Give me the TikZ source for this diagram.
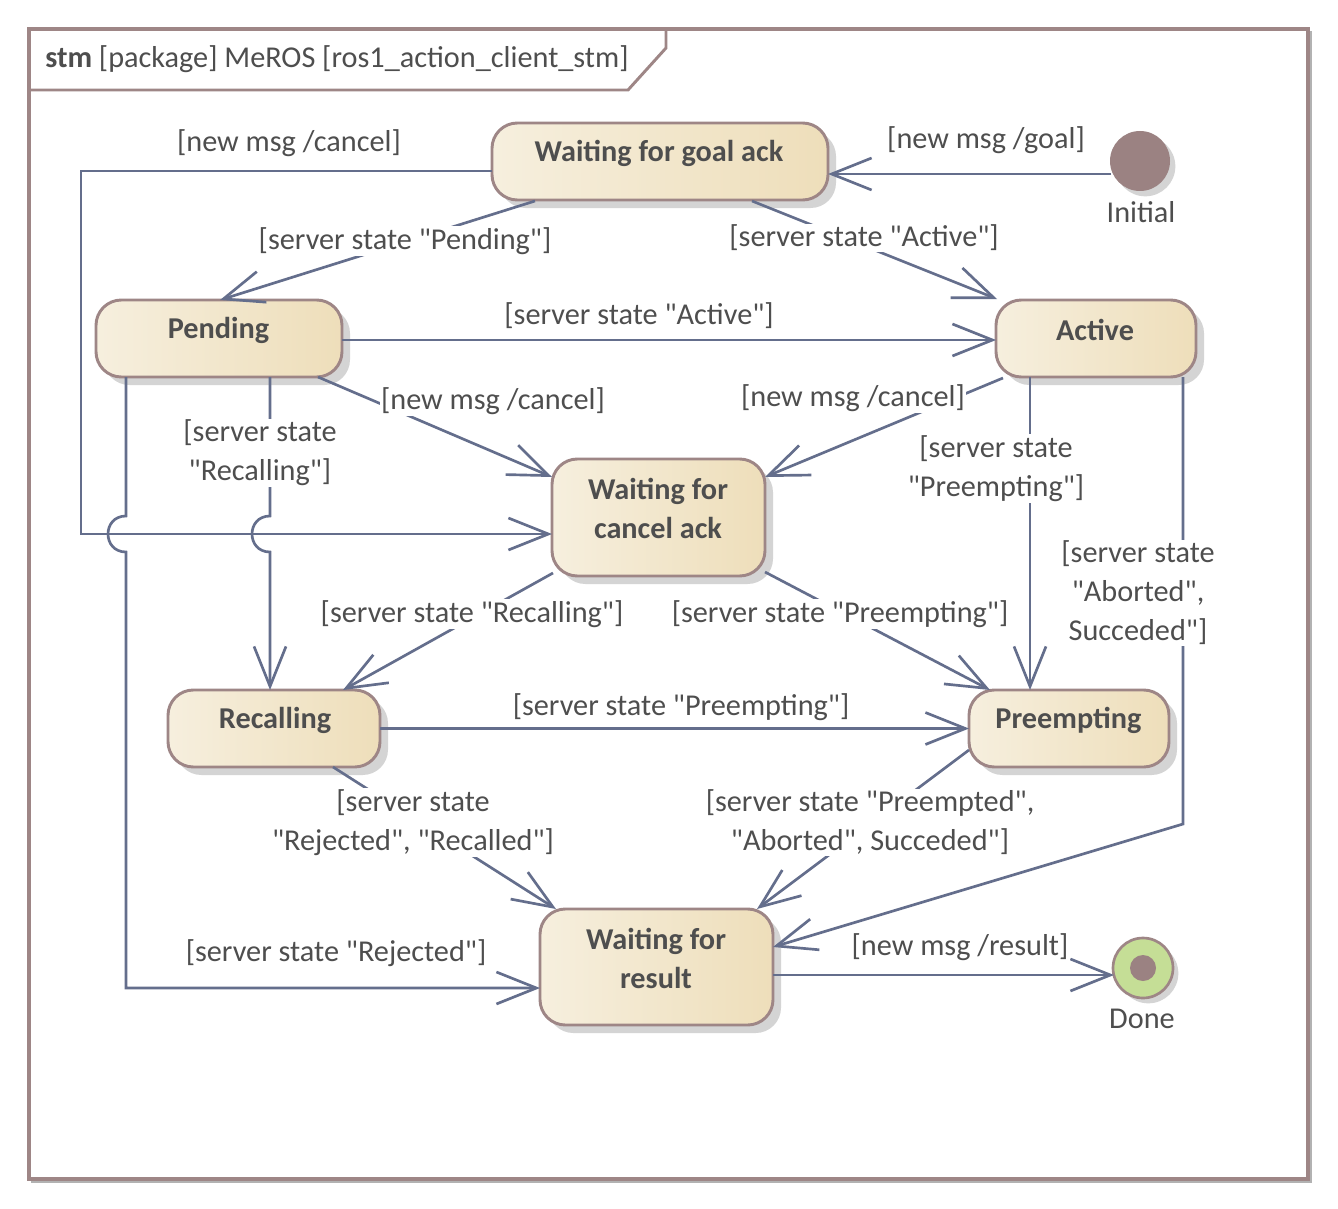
\documentclass[tikz,border=0pt]{standalone}
\usepackage{fontspec}
\setmainfont{Carlito}[Ligatures=TeXOff]
\usetikzlibrary{arrows.meta,shadows,calc}
\definecolor{edgeC}{RGB}{100,110,140}
\definecolor{frameC}{RGB}{158,134,134}
\definecolor{shadowC}{RGB}{212,212,212}
\definecolor{stL}{RGB}{246,239,222}
\definecolor{stR}{RGB}{238,222,186}
\definecolor{initC}{RGB}{155,130,130}
\definecolor{doneC}{RGB}{197,222,150}
\definecolor{txtC}{RGB}{78,78,78}
\def\PX{0.75pt}
\tikzset{
  stbox/.style={draw=frameC, line width=2.2pt, rounded corners=19pt, inner sep=0pt, outer sep=0pt,
    left color=stL, right color=stR,
    drop shadow={shadow xshift=6pt, shadow yshift=-6pt, fill=shadowC, opacity=1}},
  sttext/.style={inner sep=0pt, align=center, text=txtC, font=\fontsize{22.7}{29.25}\selectfont\bfseries},
  lbl/.style={fill=white, inner sep=1pt, align=center, text=txtC, font=\fontsize{22.7}{29.25}\selectfont},
  plain/.style={inner sep=0pt, text=txtC, font=\fontsize{22.7}{29.25}\selectfont},
  tr/.style={draw=edgeC, line width=2pt, -{Straight Barb[length=30pt,width=24pt]}},
}
\begin{document}
\begin{tikzpicture}[x=0.75pt,y=-0.75pt]
\useasboundingbox (0,0) rectangle (1338,1209);
% frame
\fill[black!30] (31,31) rectangle (1312,1183);
\draw[frameC, line width=2.5pt, fill=white] (29,29) rectangle (1308,1179);
\draw[frameC, line width=2.2pt] (30,90) -- (628,90) -- (666,48) -- (666,30);
\node[plain, anchor=west] (title) at (45,59) {\textbf{stm} [package] MeROS [ros1\_action\_client\_stm]};

% states
\node[stbox, minimum width=336*\PX, minimum height=77*\PX] (wg) at (660,161.5) {};
\node[stbox, minimum width=246*\PX, minimum height=77*\PX] (pe) at (219,338.5) {};
\node[stbox, minimum width=200*\PX, minimum height=77*\PX] (ac) at (1096,338.5) {};
\node[stbox, minimum width=213*\PX, minimum height=117*\PX] (wc) at (658.5,517.5) {};
\node[stbox, minimum width=212*\PX, minimum height=77*\PX] (re) at (274,728.5) {};
\node[stbox, minimum width=200*\PX, minimum height=77*\PX] (pr) at (1069,728.5) {};
\node[stbox, minimum width=233*\PX, minimum height=116*\PX] (wr) at (656.5,967) {};

% pseudo states
\node[circle, fill=initC, minimum size=60*\PX, inner sep=0pt, outer sep=0pt,
  drop shadow={shadow xshift=4pt, shadow yshift=-4pt, fill=shadowC, opacity=1}] (init) at (1140,161) {};
\node[plain] (initl) at (1141,212) {Initial};
\node[circle, draw=frameC, line width=2pt, fill=doneC, minimum size=60*\PX, inner sep=0pt, outer sep=0pt,
  drop shadow={shadow xshift=4pt, shadow yshift=-4pt, fill=shadowC, opacity=1}] (done) at (1143,968) {};
\node[circle, fill=initC, minimum size=26*\PX, inner sep=0pt] (donedot) at (done.center) {};
\node[plain] (donel) at (1142,1019) {Done};

% transitions
\draw[tr] ($(init.center)+(-29,13)$) -- ($(wg.east)+(0,12.5)$);
\draw[tr] ($(wg.west)+(0,9.5)$) -- ++(-411,0) |- ($(wc.west)+(0,16.5)$);
\draw[tr] ($(wg.south west)+(43,1)$) -- ($(pe.north)+(1,0)$);
\draw[tr] ($(wg.south west)+(260,1)$) -- ($(ac.north west)+(1,-1)$);
\draw[tr] ($(pe.east)+(0,1.5)$) -- ($(ac.west)+(0,1.5)$);
\draw[tr] ($(pe.south east)+(-24,0)$) -- ($(wc.north west)+(0,18)$);
\draw[tr] ($(ac.south west)+(7,1)$) -- ($(wc.north east)+(0,18)$);
\draw[tr] ($(pe.south west)+(174,0)$) -- (270,516) .. controls (246,516) and (246,552) .. (270,552) -- ($(re.north west)+(102,0)$);
\draw[tr] ($(pe.south west)+(30,0)$) -- (126,516) .. controls (102,516) and (102,552) .. (126,552) |- ($(wr.west)+(0,21)$);
\draw[tr] ($(ac.south west)+(34,0)$) -- ($(pr.north west)+(61,0)$);
\draw[tr] ($(ac.south east)+(-13,0)$) -- ++(0,447) -- ($(wr.east)+(0,-20)$);
\draw[tr] ($(wc.south west)+(1,-3)$) -- ($(re.north east)+(-37,0)$);
\draw[tr] ($(wc.south east)+(0,-4)$) -- ($(pr.north west)+(21,0)$);
\draw[tr] (re.east) -- (re.east -| pr.west);
\draw[tr] ($(re.south west)+(165,0)$) -- ($(wr.north west)+(16,0)$);
\draw[tr] ($(pr.west)+(0,21.5)$) -- ($(wr.north east)+(-16,0)$);
\draw[tr] ($(wr.east)+(0,8)$) -- ($(done.center)+(-29,7)$);

% labels
\node[lbl] (l1) at (986,140) {[new msg /goal]};
\node[lbl] (l2) at (289,143) {[new msg /cancel]};
\node[lbl] (l3) at (405,241) {[server state "Pending"]};
\node[lbl] (l4) at (864,238) {[server state "Active"]};
\node[lbl] (l5) at (639,316) {[server state "Active"]};
\node[lbl] (l6) at (493,401) {[new msg /cancel]};
\node[lbl] (l7) at (853,398) {[new msg /cancel]};
\node[lbl] (l8) at (260,453) {[server state\\"Recalling"]};
\node[lbl] (l10) at (996,468.5) {[server state\\"Preempting"]};
\node[lbl] (l11) at (1138,593) {[server state\\"Aborted",\\Succeded"]};
\node[lbl] (l12) at (472,614) {[server state "Recalling"]};
\node[lbl] (l13) at (840,614) {[server state "Preempting"]};
\node[lbl] (l14) at (681,707) {[server state "Preempting"]};
\node[lbl] (l15) at (413,822.5) {[server state\\"Rejected", "Recalled"]};
\node[lbl] (l16) at (870,822.5) {[server state "Preempted",\\"Aborted", Succeded"]};
\node[lbl] (l9) at (336,953) {[server state "Rejected"]};
\node[lbl] (l17) at (960,947) {[new msg /result]};

% state names
\node[sttext] (wgt) at (659,153) {Waiting for goal ack};
\node[sttext] (pet) at (218.5,330) {Pending};
\node[sttext] (act) at (1095,330) {Active};
\node[sttext] (wct) at (658,508.5) {Waiting for\\cancel ack};
\node[sttext] (ret) at (275,720) {Recalling};
\node[sttext] (prt) at (1068.5,720) {Preempting};
\node[sttext] (wrt) at (656,958.5) {Waiting for\\result};
\end{tikzpicture}
\end{document}
